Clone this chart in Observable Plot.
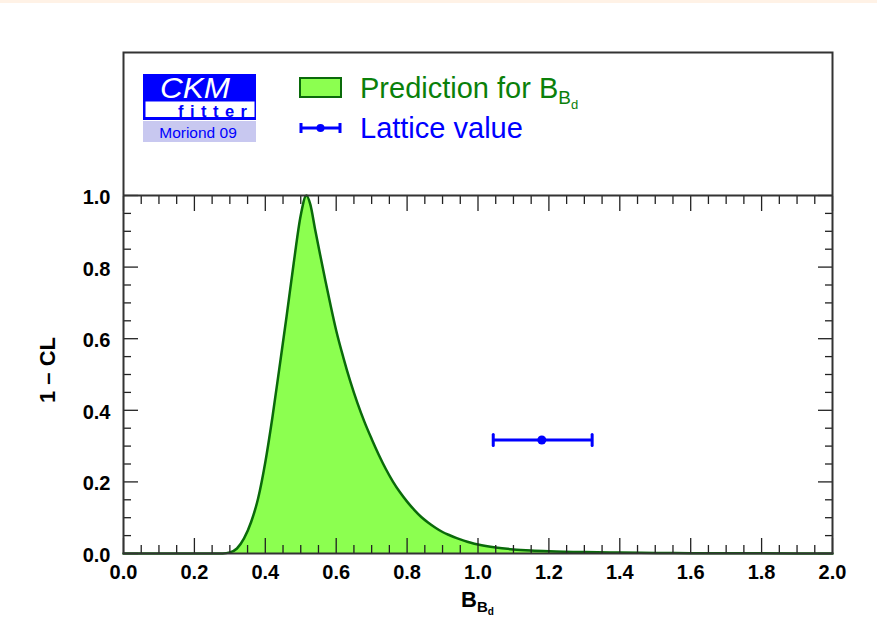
<!DOCTYPE html>
<html>
<head>
<meta charset="utf-8">
<script src="https://cdn.jsdelivr.net/npm/d3@7"></script>
<script src="https://cdn.jsdelivr.net/npm/@observablehq/plot@0.6"></script>
<style>
  html, body { margin: 0; padding: 0; background: #ffffff; }
  #fig { position: relative; width: 877px; height: 643px; overflow: hidden; }
  #topband { position: absolute; left: 0; top: 0; width: 877px; height: 3px; background: #fff2e6; }
  #fig svg { position: absolute; left: 0; top: 0; }
</style>
</head>
<body>
<div id="fig"><div id="topband"></div></div>
<script>
// Predicted profile of 1 - CL versus B_Bd
const bValues = [0.00, 0.20, 0.28, 0.30, 0.32, 0.34, 0.36, 0.38, 0.40, 0.42, 0.44, 0.46, 0.48, 0.50, 0.516,
                 0.527, 0.540, 0.556, 0.570, 0.584, 0.600, 0.620, 0.640, 0.660, 0.680, 0.700, 0.720, 0.740, 0.760, 0.780, 0.800,
                 0.820, 0.840, 0.860, 0.880, 0.900, 0.920, 0.940, 0.960, 0.980, 1.000, 1.050, 1.100, 1.150, 1.200,
                 1.300, 1.400, 1.500, 1.600, 1.800, 2.000];
const clValues = [0.000, 0.000, 0.000, 0.003, 0.014, 0.042, 0.088, 0.155, 0.255, 0.380, 0.520, 0.662, 0.810, 0.945, 1.000,
                  0.975, 0.908, 0.828, 0.760, 0.694, 0.623, 0.548, 0.480, 0.420, 0.367, 0.320, 0.276, 0.236, 0.201, 0.171, 0.145,
                  0.122, 0.102, 0.086, 0.072, 0.060, 0.051, 0.043, 0.036, 0.030, 0.025, 0.0165, 0.0115, 0.0085, 0.0065,
                  0.0040, 0.0025, 0.0016, 0.0010, 0.0004, 0.0002];

// Lattice value with its 1-sigma interval, drawn at 1 - CL = 0.317
const latticeCentral = 1.18;
const latticeLow = 1.043;
const latticeHigh = 1.322;
const latticeLevel = 0.317;

// Tick positions
const xMajor = [0, 0.2, 0.4, 0.6, 0.8, 1.0, 1.2, 1.4, 1.6, 1.8, 2.0];
const xMinor = d3.range(0, 40).map(i => +(i * 0.05).toFixed(2)).filter(v => Math.round(v * 100) % 20 !== 0);
const yMajor = [0, 0.2, 0.4, 0.6, 0.8, 1.0];
const yMinor = d3.range(0, 20).map(i => +(i * 0.05).toFixed(2)).filter(v => Math.round(v * 100) % 20 !== 0);

const curve = bValues.map((b, i) => ({b, cl: clValues[i]}));
const lattice = [{central: latticeCentral, lo: latticeLow, hi: latticeHigh, level: latticeLevel}];

const fillGreen = "#8cff50";
const lineGreen = "#0a6a0a";
const textGreen = "#0a800a";
const blue = "#0000ff";
const axisColor = "#222222";
const font = "'Liberation Sans', Arial, Helvetica, sans-serif";

const capShape = {draw(ctx, l) { ctx.moveTo(0, 0); ctx.lineTo(0, -l); }};
const noText = () => "";

const chart = Plot.plot({
  width: 877,
  height: 643,
  marginTop: 195,
  marginBottom: 90,
  marginLeft: 123,
  marginRight: 45,
  x: {domain: [0, 2]},
  y: {domain: [0, 1]},
  style: {fontFamily: font, background: "transparent", color: axisColor},
  marks: [
    Plot.areaY(curve, {x: "b", y: "cl", fill: fillGreen, curve: "monotone-x"}),
    Plot.line(curve, {x: "b", y: "cl", stroke: lineGreen, strokeWidth: 2.5, curve: "monotone-x"}),

    // inward ticks on all four sides of the plotting region
    Plot.axisX({anchor: "bottom", ticks: xMajor, tickSize: -15, tickFormat: noText, label: null, strokeWidth: 1.3}),
    Plot.axisX({anchor: "bottom", ticks: xMinor, tickSize: -8, tickFormat: noText, label: null, strokeWidth: 1.3}),
    Plot.axisX({anchor: "top", ticks: xMajor, tickSize: -15, tickFormat: noText, label: null, strokeWidth: 1.3}),
    Plot.axisX({anchor: "top", ticks: xMinor, tickSize: -8, tickFormat: noText, label: null, strokeWidth: 1.3}),
    Plot.axisY({anchor: "left", ticks: yMajor, tickSize: -15, tickFormat: noText, label: null, strokeWidth: 1.3}),
    Plot.axisY({anchor: "left", ticks: yMinor, tickSize: -8, tickFormat: noText, label: null, strokeWidth: 1.3}),
    Plot.axisY({anchor: "right", ticks: yMajor, tickSize: -15, tickFormat: noText, label: null, strokeWidth: 1.3}),
    Plot.axisY({anchor: "right", ticks: yMinor, tickSize: -8, tickFormat: noText, label: null, strokeWidth: 1.3}),

    // tick labels
    Plot.axisX({anchor: "bottom", ticks: xMajor, tickSize: 0, tickPadding: 11, tickFormat: d3.format(".1f"),
                label: null, fontSize: 20, fontWeight: "bold", fill: "#000"}),
    Plot.axisY({anchor: "left", ticks: yMajor, tickSize: 0, tickPadding: 13, tickFormat: d3.format(".1f"),
                label: null, fontSize: 20, fontWeight: "bold", fill: "#000", dy: 2}),

    // frame around the plot and the legend panel above it
    Plot.frame({stroke: "#333333", strokeWidth: 2, insetTop: -143}),
    Plot.ruleY([1], {stroke: "#333333", strokeWidth: 2}),

    // lattice value with error bar
    Plot.link(lattice, {x1: "lo", x2: "hi", y1: "level", y2: "level", stroke: blue, strokeWidth: 3}),
    Plot.vector(lattice, {x: "lo", y: "level", length: 11, anchor: "middle", rotate: 0, shape: capShape, stroke: blue, strokeWidth: 3}),
    Plot.vector(lattice, {x: "hi", y: "level", length: 11, anchor: "middle", rotate: 0, shape: capShape, stroke: blue, strokeWidth: 3}),
    Plot.dot(lattice, {x: "central", y: "level", r: 4.5, fill: blue, stroke: null})
  ]
});

const fig = document.getElementById("fig");
fig.appendChild(chart);

// Overlay: logo, legend and axis titles
const svg = d3.select(fig).append("svg")
  .attr("width", 877).attr("height", 643)
  .style("pointer-events", "none")
  .style("font-family", font);

// CKMfitter logo
const logo = svg.append("g");
logo.append("rect").attr("x", 143).attr("y", 74).attr("width", 113).attr("height", 46).attr("fill", blue);
logo.append("rect").attr("x", 145.5).attr("y", 101.5).attr("width", 109).attr("height", 15.5).attr("fill", "#ffffff");
logo.append("text").attr("x", 195).attr("y", 97.5).attr("text-anchor", "middle")
  .attr("font-size", 29).attr("font-style", "italic").attr("fill", "#ffffff")
  .attr("textLength", 70).attr("lengthAdjust", "spacingAndGlyphs").text("CKM");
logo.append("text").attr("x", 178).attr("y", 116.5).attr("font-size", 16.5).attr("font-weight", "bold")
  .attr("fill", blue).attr("textLength", 69).attr("lengthAdjust", "spacing").text("fitter");
logo.append("rect").attr("x", 143).attr("y", 121).attr("width", 113).attr("height", 21).attr("fill", "#c8c8f0");
logo.append("text").attr("x", 198).attr("y", 137.5).attr("text-anchor", "middle")
  .attr("font-size", 15.5).attr("fill", blue).text("Moriond 09");

// Legend entries
const legend = svg.append("g");
legend.append("rect").attr("x", 300).attr("y", 78).attr("width", 41).attr("height", 19)
  .attr("fill", fillGreen).attr("stroke", lineGreen).attr("stroke-width", 2);
const t1 = legend.append("text").attr("x", 360).attr("y", 97.5).attr("font-size", 29).attr("fill", textGreen);
t1.append("tspan").text("Prediction for B");
t1.append("tspan").attr("font-size", 19).attr("dy", 6).text("B");
t1.append("tspan").attr("font-size", 13).attr("dy", 5).text("d");

legend.append("line").attr("x1", 301).attr("x2", 340).attr("y1", 128).attr("y2", 128).attr("stroke", blue).attr("stroke-width", 3);
legend.append("line").attr("x1", 301).attr("x2", 301).attr("y1", 123).attr("y2", 133).attr("stroke", blue).attr("stroke-width", 3);
legend.append("line").attr("x1", 340).attr("x2", 340).attr("y1", 123).attr("y2", 133).attr("stroke", blue).attr("stroke-width", 3);
legend.append("circle").attr("cx", 320.5).attr("cy", 128).attr("r", 4).attr("fill", blue);
legend.append("text").attr("x", 360).attr("y", 137.5).attr("font-size", 29).attr("fill", blue).text("Lattice value");

// Axis titles
svg.append("text").attr("transform", "translate(55,370) rotate(-90)").attr("text-anchor", "middle")
  .attr("font-size", 22).attr("font-weight", "bold").attr("fill", "#000").text("1 \u2013 CL");
const xt = svg.append("text").attr("x", 461).attr("y", 607).attr("font-size", 22).attr("font-weight", "bold").attr("fill", "#000");
xt.append("tspan").text("B");
xt.append("tspan").attr("font-size", 15).attr("dy", 5).text("B");
xt.append("tspan").attr("font-size", 10).attr("dy", 3).text("d");
</script>
</body>
</html>
